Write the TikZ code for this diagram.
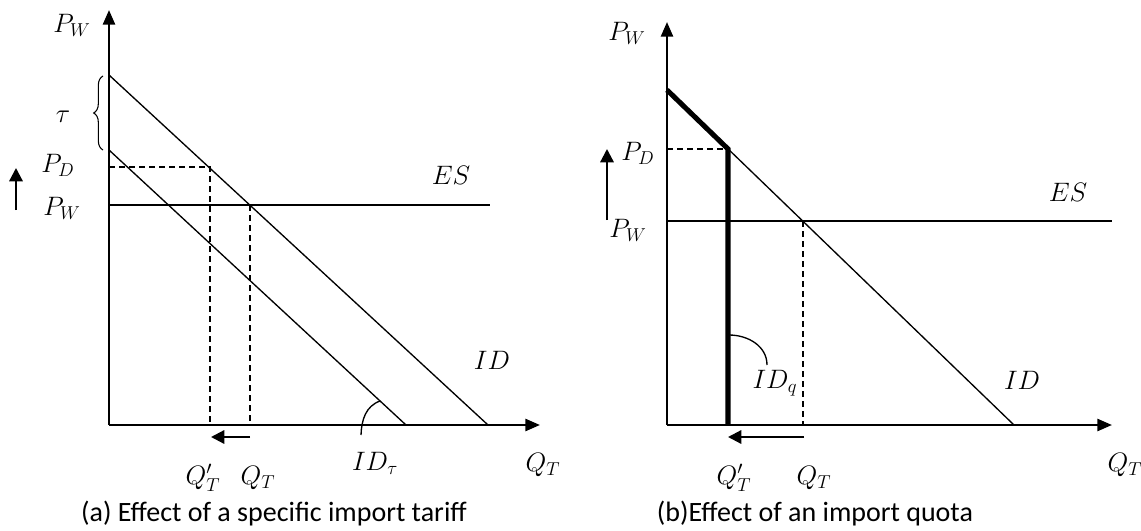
\documentclass[tikz,border=0pt]{standalone}
\usepackage{fix-cm}
\usepackage{amsmath}
\usepackage{fontspec}
\setsansfont{Carlito}
\usetikzlibrary{arrows.meta,positioning,decorations.pathreplacing}

\begin{document}
\begin{tikzpicture}[
    x=0.75pt, y=-0.75pt,
    axis/.style={line width=1.9pt, -{Triangle[length=11pt,width=9pt]}},
    demand/.style={line width=1pt},
    guide/.style={line width=1pt, dash pattern=on 4.5pt off 3pt},
    quota/.style={line width=3.8pt, line join=miter},
    shiftarr/.style={line width=1.7pt, -{Triangle[length=10pt,width=10pt]}},
    lbl/.style={font=\fontsize{20}{22}\selectfont, inner sep=1pt},
    caption/.style={font=\sffamily\fontsize{21}{24}\selectfont}
  ]
  \useasboundingbox (0,0) rectangle (1141,531);

  %% (a) import tariff
  \coordinate (o1)   at (109,425);
  \coordinate (ytop1) at (109,10);
  \coordinate (xend1) at (540,425);
  \coordinate (id1a) at (109,75);
  \coordinate (id1b) at (488,425);
  \coordinate (idt1a) at (109,150);
  \coordinate (idt1b) at (406,425);
  \coordinate (es1a) at (109,205);
  \coordinate (es1b) at (490,205);
  \coordinate (pd1)  at (109,167);
  \coordinate (d1)   at (210,167);
  \coordinate (d1b)  at (210,425);
  \coordinate (e1)   at (250,205);
  \coordinate (e1b)  at (250,425);

  \draw[axis] (o1) -- (ytop1);
  \draw[axis] (o1) -- (xend1);
  \draw[demand] (id1a) -- (id1b);
  \draw[demand] (idt1a) -- (idt1b);
  \draw[demand] (es1a) -- (es1b);
  \draw[guide] (pd1) -- (d1) -- (d1b);
  \draw[guide] (e1) -- (e1b);

  %% tariff brace
  \draw[line width=0.8pt, decorate, decoration={brace, amplitude=7pt}]
    (103,150) -- (103,76);
  \node[lbl] (tau) at (63,117) {$\tau$};

  %% labels
  \node[lbl] (pw1) at (72,25) {$P_W$};
  \node[lbl] (pdl1) at (58,165) {$P_D$};
  \node[lbl] (pwl1) at (62,208) {$P_W$};
  \coordinate (up1a) at (16,210);
  \coordinate (up1b) at (16,168);
  \draw[shiftarr] (up1a) -- (up1b);
  \node[lbl] (es1) at (451,175) {$ES$};
  \node[lbl] (id1) at (492,360) {$ID$};
  \node[lbl] (qt1) at (543,465) {$Q_T$};
  \node[lbl] (qa1) at (203,478) {$Q'_T$};
  \node[lbl] (qb1) at (258,478) {$Q_T$};
  \node[lbl] (idt1) at (375,463) {$ID_\tau$};
  \coordinate (arr1a) at (250,437);
  \coordinate (arr1b) at (211,437);
  \draw[shiftarr] (arr1a) -- (arr1b);
  \coordinate (pt1a) at (361,435);
  \coordinate (pt1b) at (380,401);
  \draw[demand] (pt1a) to[out=88,in=200] (pt1b);

  \node[caption] (capa) at (274,514) {(a) Effect of a specific import tariff};

  %% (b) import quota
  \coordinate (o2)   at (667,425);
  \coordinate (ytop2) at (667,22);
  \coordinate (xend2) at (1112,425);
  \coordinate (id2a) at (667,90);
  \coordinate (id2b) at (1014,425);
  \coordinate (q2)   at (728,149);
  \coordinate (q2b)  at (728,425);
  \coordinate (pd2)  at (667,149);
  \coordinate (es2a) at (667,221);
  \coordinate (es2b) at (1112,221);
  \coordinate (e2)   at (803,221);
  \coordinate (e2b)  at (803,425);

  \draw[axis] (o2) -- (ytop2);
  \draw[axis] (o2) -- (xend2);
  \draw[demand] (id2a) -- (id2b);
  \draw[demand] (es2a) -- (es2b);
  \draw[guide] (pd2) -- (q2);
  \draw[guide] (e2) -- (e2b);
  \draw[quota] (id2a) -- (q2) -- (q2b);

  %% labels
  \node[lbl] (pw2) at (627,33) {$P_W$};
  \node[lbl] (pdl2) at (638,153) {$P_D$};
  \node[lbl] (pwl2) at (628,230) {$P_W$};
  \coordinate (up2a) at (607,220);
  \coordinate (up2b) at (607,149);
  \draw[shiftarr] (up2a) -- (up2b);
  \node[lbl] (es2) at (1068,192) {$ES$};
  \node[lbl] (id2) at (1022,380) {$ID$};
  \node[lbl] (idq2) at (775,383) {$ID_q$};
  \node[lbl] (qt2) at (1125,465) {$Q_T$};
  \node[lbl] (qa2) at (734,478) {$Q'_T$};
  \node[lbl] (qb2) at (814,478) {$Q_T$};
  \coordinate (arr2a) at (804,437);
  \coordinate (arr2b) at (728,437);
  \draw[shiftarr] (arr2a) -- (arr2b);
  \coordinate (pt2a) at (729,335);
  \coordinate (pt2b) at (767,365);
  \draw[demand] (pt2a) to[out=0,in=90] (pt2b);

  \node[caption] (capb) at (815,514) {(b)Effect of an import quota};

\end{tikzpicture}
\end{document}
